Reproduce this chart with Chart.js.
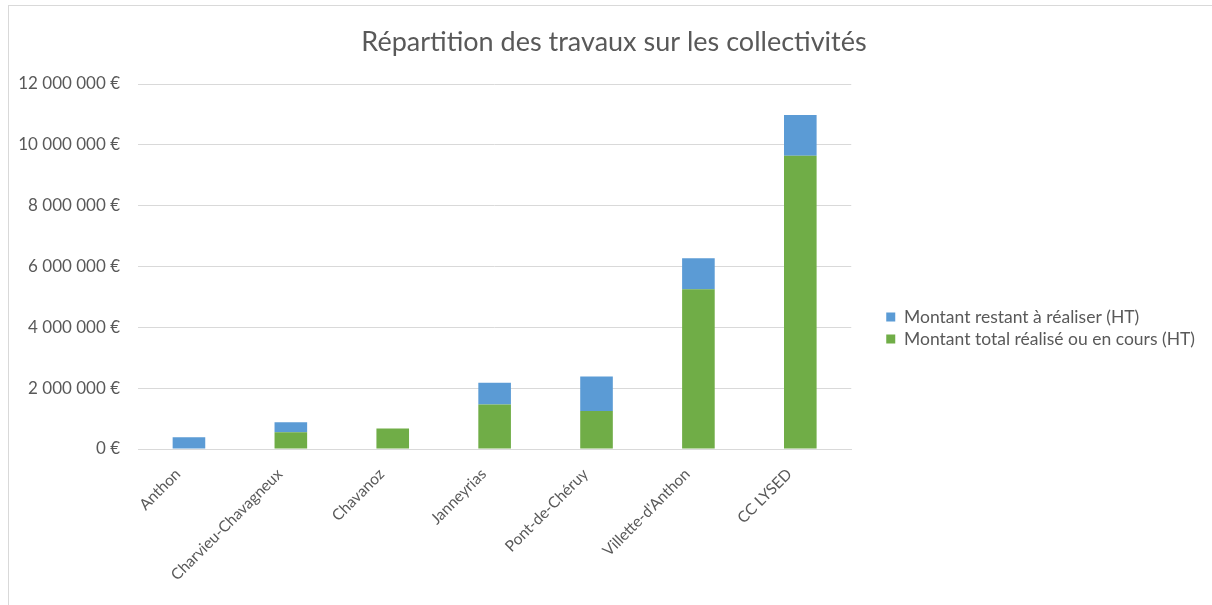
<!DOCTYPE html>
<html lang="fr">
<head>
<meta charset="utf-8">
<title>Répartition des travaux sur les collectivités</title>
<script src="https://cdn.jsdelivr.net/npm/chart.js@4/dist/chart.umd.min.js"></script>
<style>
  html, body { margin: 0; padding: 0; background: #fff; overflow: hidden; }
  #wrap { position: relative; width: 1212px; height: 605px; }
  #graph { position: absolute; left: 0; top: 0; }
  #frame {
    position: absolute; left: 8px; top: 5px; width: 1400px; height: 800px;
    border: 1px solid #d9d9d9; pointer-events: none;
  }
</style>
</head>
<body>
<div id="wrap">
  <canvas id="graph" width="1212" height="605"></canvas>
  <div id="frame"></div>
</div>
<script>
const collectivites = ["Anthon", "Charvieu-Chavagneux", "Chavanoz", "Janneyrias", "Pont-de-Chéruy", "Villette-d'Anthon", "CC LYSED"];
const montantRealise = [0, 550000, 670000, 1460000, 1250000, 5250000, 9640000];
const montantRestant = [390000, 330000, 0, 720000, 1130000, 1020000, 1340000];
const yTicks = [0, 2000000, 4000000, 6000000, 8000000, 10000000, 12000000];

const grey = "#595959";
const fontFamily = "Lato, 'Open Sans', sans-serif";

// "12 000 000 €" style labels
function euros(v) {
  return String(v).replace(/\B(?=(\d{3})+(?!\d))/g, " ") + " €";
}

// move the title and legend a bit once the layout is done
const nudge = {
  id: "nudge",
  afterLayout(chart) {
    const t = chart.titleBlock;
    t.left += 46.5;
    t.right += 46.5;
    const lg = chart.legend;
    lg.left += 30.5;
    lg.right = chart.width;
    lg.width = lg.right - lg.left;
    lg.top += 12.5;
    lg.bottom += 12.5;
  },
};

document.addEventListener("DOMContentLoaded", () => {
  const ctx = document.getElementById("graph").getContext("2d");

  const data = {
    labels: collectivites,
    datasets: [
      {
        label: "Montant total réalisé ou en cours (HT)",
        data: montantRealise,
        backgroundColor: "#70ad47",
        barPercentage: 0.32,
        categoryPercentage: 1,
      },
      {
        label: "Montant restant à réaliser (HT)",
        data: montantRestant,
        backgroundColor: "#5b9bd5",
        barPercentage: 0.32,
        categoryPercentage: 1,
      },
    ],
  };

  const options = {
    responsive: false,
    animation: false,
    layout: { padding: { top: 26, right: 77, left: 0, bottom: 0 } },
    scales: {
      x: {
        stacked: true,
        grid: { display: false, drawTicks: false },
        border: { color: "#d9d9d9" },
        ticks: {
          color: grey,
          font: { family: fontFamily, size: 15.5 },
          minRotation: 45,
          maxRotation: 45,
          padding: 16,
          labelOffset: -11,
        },
        afterFit: (scale) => { scale.height = 156; },
      },
      y: {
        stacked: true,
        min: 0,
        max: 12000000,
        afterBuildTicks: (scale) => { scale.ticks = yTicks.map((v) => ({ value: v })); },
        grid: { color: "#d9d9d9", drawTicks: false },
        border: { display: false },
        ticks: {
          color: grey,
          font: { family: fontFamily, size: 17 },
          padding: 18,
          callback: (v) => euros(v),
        },
        afterFit: (scale) => { scale.width = 138; },
      },
    },
    plugins: {
      title: {
        display: true,
        text: "Répartition des travaux sur les collectivités",
        color: grey,
        font: { family: fontFamily, size: 27, weight: "normal" },
        padding: { top: 0, bottom: 25.6 },
      },
      legend: {
        position: "right",
        reverse: true,
        labels: {
          color: grey,
          font: { family: fontFamily, size: 17.5 },
          boxWidth: 9,
          boxHeight: 9,
          padding: 4.5,
        },
      },
      tooltip: { enabled: false },
    },
  };

  new Chart(ctx, { type: "bar", data: data, options: options, plugins: [nudge] });
});
</script>
</body>
</html>
